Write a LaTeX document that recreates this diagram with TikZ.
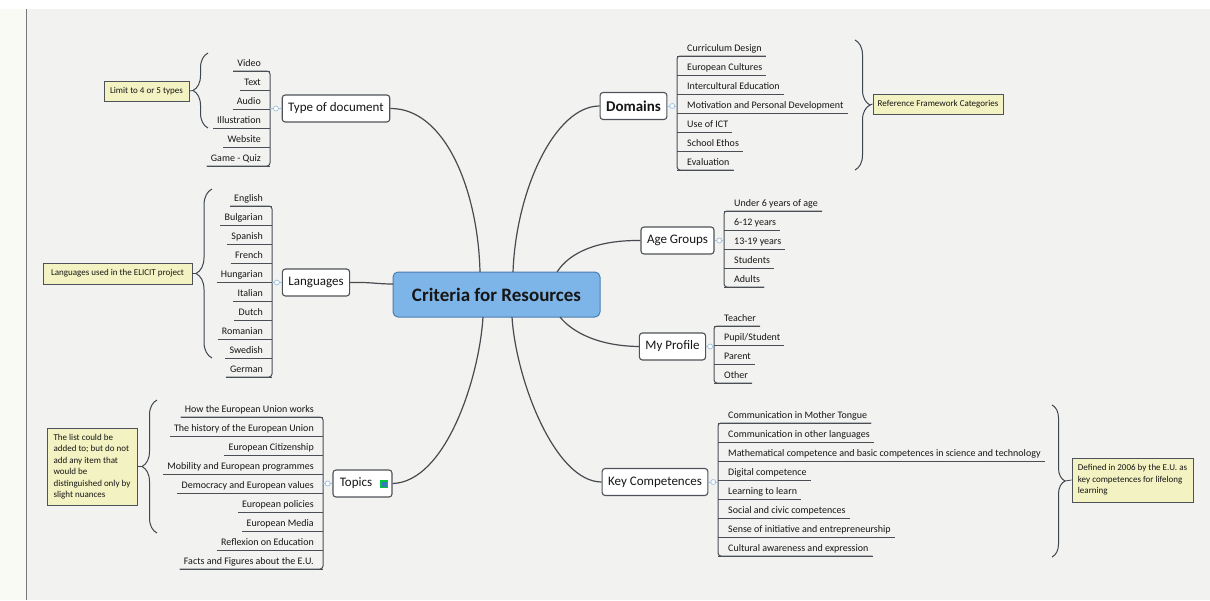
\documentclass[tikz,border=0pt]{standalone}
\usepackage{fontspec}
\setmainfont{Carlito}
\usetikzlibrary{decorations.pathreplacing,calc}
\definecolor{bgc}{HTML}{F2F2F0}
\definecolor{leftc}{HTML}{FAFAF5}
\definecolor{edgec}{HTML}{7A7A7A}
\definecolor{txt}{HTML}{161616}
\definecolor{lc}{HTML}{4A4F55}
\definecolor{bc}{HTML}{4F5359}
\definecolor{cc}{HTML}{474B50}
\definecolor{yel}{HTML}{F2F2C2}
\definecolor{brc}{HTML}{3E4650}
\definecolor{mkc}{HTML}{9DC0E0}
\definecolor{rootfill}{HTML}{7EB5E8}
\definecolor{rootdraw}{HTML}{4D7DAE}
\begin{document}
\begin{tikzpicture}[x=1pt,y=-1pt,
  leaf/.style={inner xsep=4pt, inner ysep=2pt, text height=7pt, text depth=2pt,
    font=\fontsize{10}{12}\selectfont, text=txt},
  leafline/.style={draw=lc, line width=1pt},
  topic/.style={draw=bc, line width=1.1pt, fill=white, rounded corners=3pt,
    minimum height=27pt, inner xsep=6pt, font=\fontsize{13}{15}\selectfont, text=txt},
  conn/.style={draw=cc, line width=1.2pt},
  callout/.style={draw=bc, fill=yel, line width=0.9pt, inner sep=4pt,
    font=\fontsize{9}{11.5}\selectfont, align=left, text=txt},
  bracestyle/.style={draw=brc, line width=1pt, decorate, decoration={brace, amplitude=#1}},
  mk/.style={draw=mkc, fill=white, line width=0.7pt},
  mkline/.style={draw=mkc, line width=0.7pt}
]
\useasboundingbox (0,0) rectangle (1210,600);
% background
\fill[white] (0,0) rectangle (1210,600);
\fill[leftc] (0,9) rectangle (26,600);
\fill[bgc] (26,9) rectangle (1210,600);
\draw[edgec, line width=1pt] (26,9) -- (26,600);

% root
\node[draw=rootdraw, fill=rootfill, line width=1pt, rounded corners=5pt,
  minimum width=207pt, minimum height=45pt, font=\fontsize{19}{22}\selectfont\bfseries, text=txt]
  (root) at (496.5,294.5) {Criteria for Resources};

% main topics
\node[topic] (doc) at (336,108.5) {Type of document};
\node[topic] (lang) at (316,282.5) {Languages};
\node[topic, minimum width=59pt] (top) at (362.5,483.5) {Topics\kern13pt};
\node[topic, font=\fontsize{15}{17}\selectfont\bfseries] (dom) at (633.5,106) {Domains};
\node[topic] (age) at (677.5,240.5) {Age Groups};
\node[topic] (prof) at (672.5,346.5) {My Profile};
\node[topic] (key) at (655,482) {Key Competences};

% icon next to Topics
\fill[green!55!teal] (380,480) rectangle (388,488);
\fill[teal!70!blue!80!white] (381.5,481.5) rectangle (386.5,486.5);

% main connectors
\draw[conn] (doc.east) .. controls (445,108) and (478,190) .. (480,272);
\draw[conn] (dom.west) .. controls (555,106) and (516,190) .. (513,272);
\draw[conn] (age.west) .. controls (598,240) and (570,252) .. (557,272);
\draw[conn] (prof.west) .. controls (598,346) and (572,332) .. (560,317);
\draw[conn] (top.east) .. controls (445,482) and (479,380) .. (483,317);
\draw[conn] (key.west) .. controls (555,482) and (516,380) .. (512,317);
\draw[conn] (lang.east) .. controls (372,282) and (376,284) .. (393,284);

% ---------- Type of document leaves (left) ----------
\foreach \t [count=\i] in {Video,Text,Audio,Illustration,Website,Game - Quiz}{
  \node[leaf, anchor=south east] (doc\i) at (265,{71+19*(\i-1)}) {\t};
  \draw[leafline] (doc\i.south west) -- (270,{71+19*(\i-1)});
}
\draw[leafline, rounded corners=3pt] (doc1.south west) -- (270,71) -- (270,166) -- (doc6.south west);
\draw[mkline] (doc.west) -- (270,108.5);
\draw[mk] ($(doc.west)!0.5!(270,108.5)$) circle (2.5pt);

% ---------- Languages leaves (left) ----------
\foreach \t [count=\i] in {English,Bulgarian,Spanish,French,Hungarian,Italian,Dutch,Romanian,Swedish,German}{
  \node[leaf, anchor=south east] (lang\i) at (267,{206+19*(\i-1)}) {\t};
  \draw[leafline] (lang\i.south west) -- (272,{206+19*(\i-1)});
}
\draw[leafline, rounded corners=3pt] (lang1.south west) -- (272,206) -- (272,377) -- (lang10.south west);
\draw[mkline] (lang.west) -- (272,282.5);
\draw[mk] ($(lang.west)!0.5!(272,282.5)$) circle (2.5pt);

% ---------- Topics leaves (left) ----------
\foreach \t [count=\i] in {How the European Union works,The history of the European Union,European Citizenship,Mobility and European programmes,Democracy and European values,European policies,European Media,Reflexion on Education,Facts and Figures about the E.U.}{
  \node[leaf, anchor=south east] (top\i) at (318,{417+19*(\i-1)}) {\t};
  \draw[leafline] (top\i.south west) -- (323,{417+19*(\i-1)});
}
\draw[leafline, rounded corners=3pt] (top1.south west) -- (323,417) -- (323,569) -- (top9.south west);
\draw[mkline] (top.west) -- (323,483.5);
\draw[mk] ($(top.west)!0.5!(323,483.5)$) circle (2.5pt);

% ---------- Domains leaves (right) ----------
\foreach \t [count=\i] in {Curriculum Design,European Cultures,Intercultural Education,Motivation and Personal Development,Use of ICT,School Ethos,Evaluation}{
  \node[leaf, anchor=south west] (dom\i) at (683,{56+19*(\i-1)}) {\t};
  \draw[leafline] (677,{56+19*(\i-1)}) -- (dom\i.south east);
}
\draw[leafline, rounded corners=3pt] (dom1.south east) -- (677,56) -- (677,170) -- (dom7.south east);
\draw[mkline] (dom.east) -- (677,106);
\draw[mk] ($(dom.east)!0.5!(677,106)$) circle (2.5pt);

% ---------- Age Groups leaves (right) ----------
\foreach \t [count=\i] in {Under 6 years of age,6-12 years,13-19 years,Students,Adults}{
  \node[leaf, anchor=south west] (age\i) at (730,{211+19*(\i-1)}) {\t};
  \draw[leafline] (724,{211+19*(\i-1)}) -- (age\i.south east);
}
\draw[leafline, rounded corners=3pt] (age1.south east) -- (724,211) -- (724,287) -- (age5.south east);
\draw[mkline] (age.east) -- (724,240.5);
\draw[mk] ($(age.east)!0.5!(724,240.5)$) circle (2.5pt);

% ---------- My Profile leaves (right) ----------
\foreach \t [count=\i] in {Teacher,Pupil/Student,Parent,Other}{
  \node[leaf, anchor=south west] (prof\i) at (720,{326+19*(\i-1)}) {\t};
  \draw[leafline] (714,{326+19*(\i-1)}) -- (prof\i.south east);
}
\draw[leafline, rounded corners=3pt] (prof1.south east) -- (714,326) -- (714,383) -- (prof4.south east);
\draw[mkline] (prof.east) -- (714,346.5);
\draw[mk] ($(prof.east)!0.5!(714,346.5)$) circle (2.5pt);

% ---------- Key Competences leaves (right) ----------
\foreach \t [count=\i] in {Communication in Mother Tongue,Communication in other languages,Mathematical competence and basic competences in science and technology,Digital competence,Learning to learn,Social and civic competences,Sense of initiative and entrepreneurship,Cultural awareness and expression}{
  \node[leaf, anchor=south west] (key\i) at (724,{423+19*(\i-1)}) {\t};
  \draw[leafline] (718,{423+19*(\i-1)}) -- (key\i.south east);
}
\draw[leafline, rounded corners=3pt] (key1.south east) -- (718,423) -- (718,556) -- (key8.south east);
\draw[mkline] (key.east) -- (718,482);
\draw[mk] ($(key.east)!0.5!(718,482)$) circle (2.5pt);

% ---------- braces ----------
\draw[bracestyle=15pt] (208,128) -- (208,53);
\coordinate (docTip) at (193,90.5);
\draw[bracestyle=16pt] (212,358) -- (212,189);
\coordinate (langTip) at (196,273.5);
\draw[bracestyle=15pt] (157,533) -- (157,400);
\coordinate (topTip) at (142,466.5);
\draw[bracestyle=15pt] (855,40) -- (855,170);
\coordinate (domTip) at (870,105);
\draw[bracestyle=13pt] (1052,405) -- (1052,557);
\coordinate (keyTip) at (1065,481);

% ---------- callouts ----------
\node[callout, minimum width=85pt, minimum height=20pt] (c1) at (146.5,91) {Limit to 4 or 5 types};
\node[callout, minimum width=149pt, minimum height=21pt] (c2) at (117.5,273.5) {Languages used in the ELICIT project};
\node[callout, minimum width=90pt, minimum height=77pt] (c3) at (92,466.5)
  {The list could be\\added to; but do not\\add any item that\\would be\\distinguished only by\\slight nuances};
\node[callout, minimum width=130pt, minimum height=20pt] (c4) at (938,104) {Reference Framework Categories};
\node[callout, minimum width=121pt, minimum height=44pt] (c5) at (1132.5,480)
  {Defined in 2006 by the E.U. as\\key competences for lifelong\\learning};
\draw[brc, line width=0.8pt] (c1.east) -- (docTip);
\draw[brc, line width=0.8pt] (c2.east) -- (langTip);
\draw[brc, line width=0.8pt] (c3.east) -- (topTip);
\draw[brc, line width=0.8pt] (c4.west) -- (domTip);
\draw[brc, line width=0.8pt] (c5.west) -- (keyTip);
\end{tikzpicture}
\end{document}
